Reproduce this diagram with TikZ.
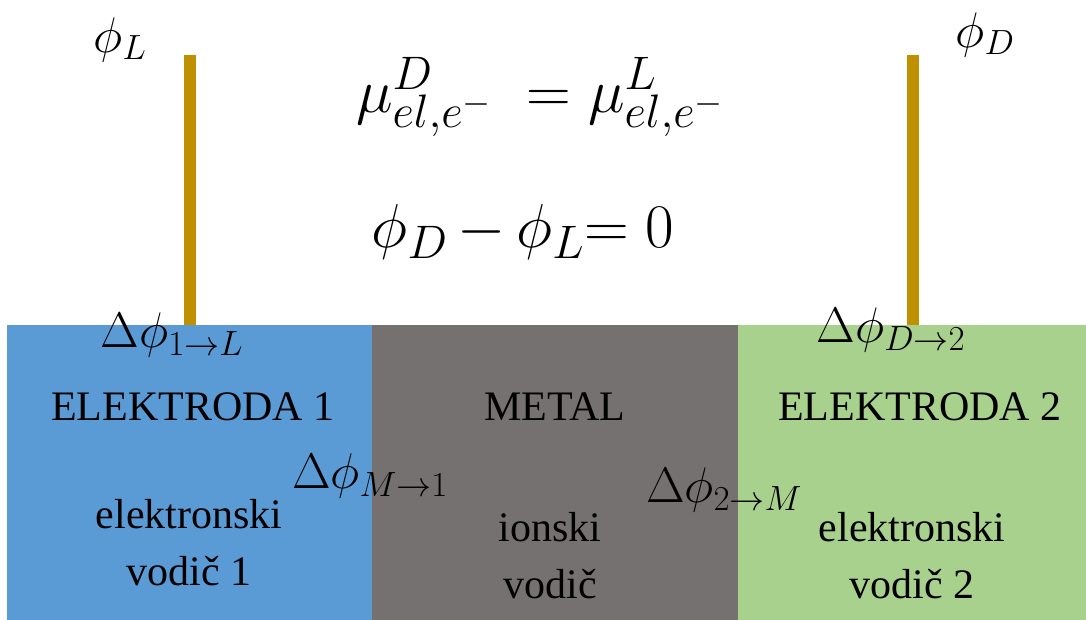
\RequirePackage{fix-cm}
\documentclass[tikz,border=0pt]{standalone}
\usepackage{fontspec}
\setmainfont{Liberation Serif}
\DeclareMathSizes{62}{62}{47}{36}
\definecolor{eblue}{RGB}{91,155,213}
\definecolor{mgray}{RGB}{118,113,113}
\definecolor{egreen}{RGB}{169,209,142}
\definecolor{gold}{RGB}{191,144,0}
\tikzset{
  zone/.style={inner sep=0, anchor=north west, minimum height=295pt},
  txt/.style={font=\fontsize{42}{57}\selectfont, align=center, inner sep=0},
  mth/.style={font=\fontsize{50}{56}\selectfont, inner sep=0},
  bigmth/.style={font=\fontsize{62}{68}\selectfont, inner sep=0},
  wire/.style={line width=12pt, draw=gold},
}
\begin{document}
\begin{tikzpicture}[x=1pt,y=-1pt]
\useasboundingbox (0,0) rectangle (1086,620);
% zones
\node[zone, fill=eblue, minimum width=365pt] (e1) at (7,325) {};
\node[zone, fill=mgray, minimum width=366pt] (met) at (372,325) {};
\node[zone, fill=egreen, minimum width=348pt] (e2) at (738,325) {};
% wires
\coordinate (tL) at (190,55);
\coordinate (tD) at (913,55);
\draw[wire] (tL) -- (tL |- e1.north);
\draw[wire] (tD) -- (tD |- e2.north);
% math labels
\node[mth] (phiL) at (120,40) {$\phi_L$};
\node[mth] (phiD) at (985,35) {$\phi_D$};
\node[bigmth] (mu) at (540,97) {$\mu^{D}_{el,e^-}\;=\mu^{L}_{el,e^-}$};
\node[bigmth] (diff) at (523,232) {$\phi_D\,{-}\,\phi_L{=}\;0$};
\node[mth] (d1L) at (172,335) {$\Delta\phi_{1\to L}$};
\node[mth] (dM1) at (370,476) {$\Delta\phi_{M\to1}$};
\node[mth] (d2M) at (724,490) {$\Delta\phi_{2\to M}$};
\node[mth] (dD2) at (891,330) {$\Delta\phi_{D\to2}$};
% text labels
\node[txt] (n1) at (193,407) {ELEKTRODA 1};
\node[txt] (nm) at (555,407) {METAL};
\node[txt] (n2) at (920,407) {ELEKTRODA 2};
\node[txt] (v1) at (189,543) {elektronski\\vodič 1};
\node[txt] (vm) at (550,556) {ionski\\vodič};
\node[txt] (v2) at (912,556) {elektronski\\vodič 2};
\end{tikzpicture}
\end{document}
